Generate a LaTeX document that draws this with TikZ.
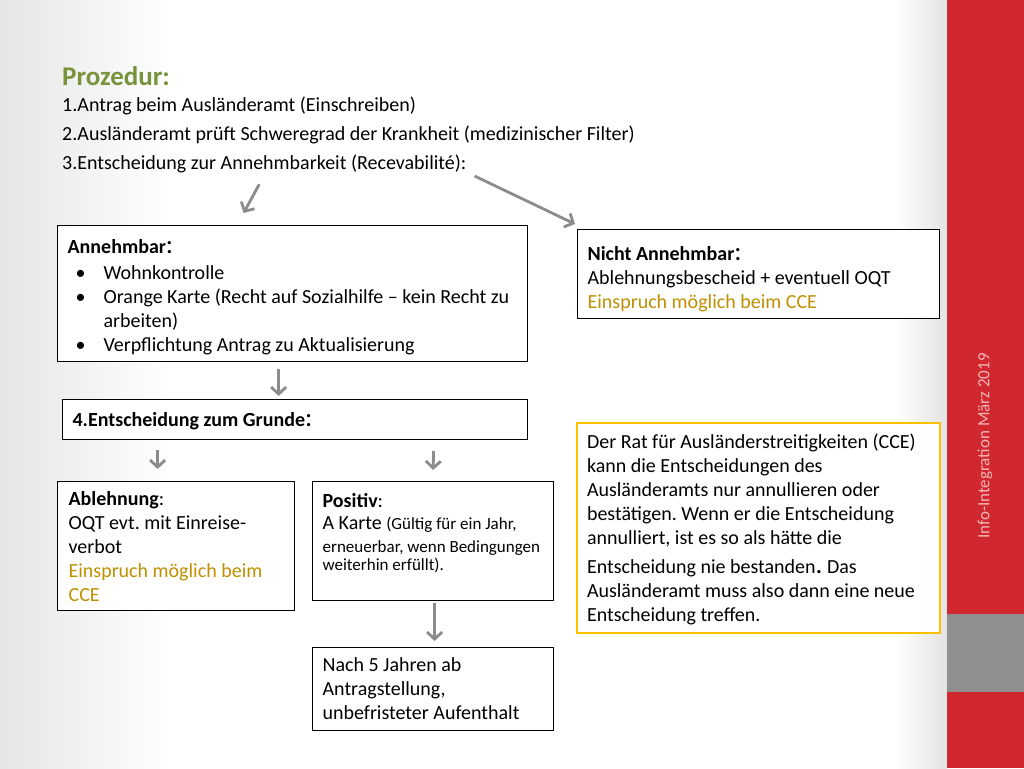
\documentclass[tikz,border=0pt]{standalone}
\usepackage{fontspec}
\setmainfont{Carlito}
\usetikzlibrary{arrows.meta,positioning,calc}
\definecolor{Titel}{HTML}{77933C}
\definecolor{Gold}{HTML}{BF9000}
\definecolor{Rahmen}{HTML}{FFC000}
\definecolor{Pfeil}{HTML}{8C8C8C}
\definecolor{Balken}{HTML}{D0282E}
\definecolor{Band}{HTML}{8F8F8F}
\definecolor{Fuss}{HTML}{F2B6B8}
\newcommand{\punkt}[1]{\par\noindent\hangindent=36pt\hangafter=1\hbox to 36pt{\hskip 8pt\textbullet\hfil}#1}
\newcommand{\grossdp}{{\fontsize{27}{24}\selectfont :}}
\newcommand{\klein}{\fontsize{17}{20}\selectfont}
% extra space at the bottom of a box (negative lowers the text)
\newcommand{\unten}[1]{\par\vspace{#1}\hrule height 0pt}
\frenchspacing

\begin{document}
\begin{tikzpicture}[x=1pt,y=-1pt,
      kasten/.style={draw=black,line width=1.2pt,fill=white,anchor=north west,
        inner xsep=10pt,inner ysep=3pt,align=flush left,
        font=\fontsize{20}{24}\selectfont\frenchspacing},
      zeile/.style={anchor=west,inner sep=0pt,font=\fontsize{20}{24}\selectfont},
      pfeil/.style={Pfeil,line width=2.8pt,-{Straight Barb[length=7pt,width=15pt]}}
    ]
      \useasboundingbox (0,0) rectangle (1024,768);
      \fill[white] (0,0) rectangle (1024,768);
      \shade[left color=gray!20,right color=white] (0,0) rectangle (170,768);
      \shade[left color=white,right color=gray!22] (895,0) rectangle (947,768);
      \fill[Balken] (947,0) rectangle (1024,768);
      \fill[Band] (947,614) rectangle (1024,692);
      \node[rotate=90,text=Fuss,font=\fontsize{17}{20}\selectfont] (fuss) at (985,446)
        {Info-Integration März 2019};

      \node[zeile,font=\fontsize{27}{30}\bfseries,text=Titel] (titel) at (62,76) {Prozedur:};
      \node[zeile] (s1) at (62,106) {1.Antrag beim Ausländeramt (Einschreiben)};
      \node[zeile] (s2) at (62,135) {2.Ausländeramt prüft Schweregrad der Krankheit (medizinischer Filter)};
      \node[zeile] (s3) at (62,164) {3.Entscheidung zur Annehmbarkeit (Recevabilité):};

      \node[kasten,text width=450pt,minimum height=136pt] (annehm) at (57,225)
        {\textbf{Annehmbar}\grossdp\par\vspace{2pt}
         \punkt{Wohnkontrolle}
         \punkt{Orange Karte (Recht auf Sozialhilfe – kein Recht zu\newline arbeiten)}
         \punkt{Verpflichtung Antrag zu Aktualisierung}\unten{-8pt}};
      \node[kasten,text width=342pt,minimum height=89pt] (nicht) at (577,229)
        {\textbf{Nicht Annehmbar}\grossdp\\
         Ablehnungsbescheid + eventuell OQT\\
         \textcolor{Gold}{Einspruch möglich beim CCE}\unten{-10pt}};
      \node[kasten,text width=445pt,minimum height=40pt] (grund) at (62,399)
        {\textbf{4.Entscheidung zum Grunde}\grossdp\unten{-7pt}};
      \node[kasten,inner xsep=11pt,text width=215pt,minimum height=129pt] (ablehn) at (57,481)
        {\textbf{Ablehnung}:\\
         OQT evt. mit Einreise-\\
         verbot\\
         \textcolor{Gold}{Einspruch möglich beim}\\
         \textcolor{Gold}{CCE}};
      \node[kasten,text width=221pt,minimum height=119pt] (posit) at (312,481)
        {\textbf{Positiv}:\\[-2pt]
         A Karte {\klein (Gültig für ein Jahr,}\\[-1pt]
         {\klein erneuerbar, wenn Bedingungen}\\[-6pt]
         {\klein weiterhin erfüllt).}\unten{16pt}};
      \node[kasten,text width=221pt,minimum height=83pt] (nach) at (312,647)
        {Nach 5 Jahren ab\\
         Antragstellung,\\
         unbefristeter Aufenthalt};
      \node[kasten,draw=Rahmen,line width=2pt,text width=343pt,minimum height=210pt] (rat) at (576,422)
        {Der Rat für Ausländerstreitigkeiten (CCE)\\
         kann die Entscheidungen des\\
         Ausländeramts nur annullieren oder\\
         bestätigen. Wenn er die Entscheidung\\
         annulliert, ist es so als hätte die\\[5pt]
         Entscheidung nie bestanden{\fontsize{27}{24}\selectfont .} Das\\
         Ausländeramt muss also dann eine neue\\
         Entscheidung treffen.\unten{-3pt}};

      \draw[pfeil] ([xshift=-5pt,yshift=-11pt]s3.south) -- ([xshift=-49pt,yshift=12pt]annehm.north);
      \draw[pfeil] ([xshift=8pt,yshift=-12pt]s3.east) -- ([xshift=-2pt,yshift=5pt]nicht.north west);
      \draw[pfeil] ([xshift=-14pt,yshift=-7pt]annehm.south) -- ([xshift=-16.5pt,yshift=3pt]grund.north);
      \draw[pfeil] ([xshift=-137.5pt,yshift=-10pt]grund.south) -- ([xshift=-18.5pt,yshift=12pt]ablehn.north);
      \draw[pfeil] ([xshift=138.5pt,yshift=-11pt]grund.south) -- ([yshift=11pt]posit.north);
      \draw[pfeil] ([xshift=1.5pt,yshift=-2pt]posit.south) -- ([xshift=1.5pt,yshift=6pt]nach.north);
    \end{tikzpicture}
\end{document}
